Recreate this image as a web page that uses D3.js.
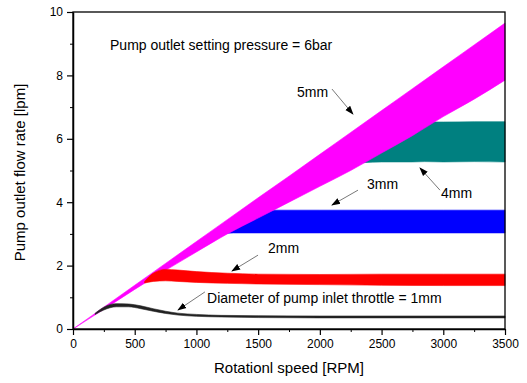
<!DOCTYPE html>
<html lang="en">
<head>
<meta charset="utf-8">
<title>Pump outlet flow rate</title>
<script src="https://d3js.org/d3.v7.min.js"></script>
<style>
  body { margin: 0; background: #fff; }
  text { font-family: "Liberation Sans", Arial, sans-serif; fill: #000; }
</style>
</head>
<body>
<svg class="chart"></svg>
<script>
// envelopes of each throttle band (rpm -> lpm)
var rpm5 = [0, 250, 500, 750, 1000, 1250, 1500, 1750, 2000, 2250, 2500, 2750, 3000, 3250, 3500];
var upper5 = [0, 0.69, 1.38, 2.07, 2.76, 3.45, 4.14, 4.82, 5.51, 6.2, 6.89, 7.58, 8.27, 8.96, 9.65];
var lower5 = [0, 0.62, 1.25, 1.85, 2.43, 3.0, 3.5, 4.0, 4.5, 5.0, 5.55, 6.1, 6.7, 7.25, 7.85];

var rpm4 = [2200, 2500, 2750, 2850, 3000, 3250, 3500];
var upper4 = [5.3, 6.2, 6.5, 6.53, 6.53, 6.54, 6.54];
var lower4 = [5.2, 5.27, 5.27, 5.28, 5.27, 5.28, 5.27];

var rpm3 = [1200, 1300, 1450, 1620, 2000, 2500, 3000, 3500];
var upper3 = [3.2, 3.45, 3.65, 3.75, 3.75, 3.75, 3.75, 3.75];
var lower3 = [3.0, 3.03, 3.03, 3.03, 3.03, 3.03, 3.03, 3.03];

var rpm2 = [580, 650, 750, 850, 1000, 1250, 1500, 2000, 2500, 3000, 3500];
var upper2 = [1.5, 1.76, 1.88, 1.86, 1.81, 1.76, 1.73, 1.72, 1.73, 1.73, 1.73];
var lower2 = [1.45, 1.5, 1.52, 1.5, 1.47, 1.44, 1.42, 1.4, 1.38, 1.37, 1.37];

var rpm1 = [180, 250, 350, 450, 550, 650, 750, 850, 1000, 1200, 1500, 2000, 3500];
var upper1 = [0.5, 0.69, 0.8, 0.79, 0.73, 0.64, 0.56, 0.5, 0.46, 0.43, 0.42, 0.41, 0.41];
var lower1 = [0.46, 0.6, 0.7, 0.7, 0.64, 0.56, 0.49, 0.44, 0.4, 0.38, 0.36, 0.35, 0.35];

var xTicks = [0, 500, 1000, 1500, 2000, 2500, 3000, 3500];
var yTicks = [0, 2, 4, 6, 8, 10];

var title = "Pump outlet setting pressure = 6bar";
var labels = ["5mm", "4mm", "3mm", "2mm", "Diameter of pump inlet throttle = 1mm"];
// label anchor and arrow in data units
var labelAt = [[1815, 7.48], [2981, 4.29], [2382, 4.57], [1580, 2.56], [1086, 0.98]];
var arrowFrom = [[2098, 7.57], [2973, 4.38], [2309, 4.38], [1499, 2.33], [1069, 1.17]];
var arrowTo = [[2268, 6.78], [2811, 5.08], [2098, 3.91], [1288, 1.83], [851, 0.6]];

// drawing order: 4mm and 3mm sit under the 5mm band, 2mm and 1mm over it
var bands = [
  {rpm: rpm4, up: upper4, lo: lower4, color: "#008080"},
  {rpm: rpm3, up: upper3, lo: lower3, color: "#0000ff"},
  {rpm: rpm5, up: upper5, lo: lower5, color: "#ff00ff"},
  {rpm: rpm2, up: upper2, lo: lower2, color: "#ff0000"},
  {rpm: rpm1, up: upper1, lo: lower1, color: "#222222"}
];

var W = 527, H = 383;
var margin = {top: 12, right: 22, bottom: 54, left: 73};
var width = W - margin.left - margin.right;
var height = H - margin.top - margin.bottom;

var svg = d3.select(".chart").attr("width", W).attr("height", H);

svg.append("defs").append("marker")
  .attr("id", "head")
  .attr("viewBox", "0 0 10 10")
  .attr("refX", 9).attr("refY", 5)
  .attr("markerWidth", 9).attr("markerHeight", 9)
  .attr("markerUnits", "userSpaceOnUse")
  .attr("orient", "auto")
  .append("path").attr("d", "M0,1.5 L10,5 L0,8.5 Z").attr("fill", "#000");

var chart = svg.append("g").attr("transform", "translate(" + margin.left + "," + margin.top + ")");

var x = d3.scaleLinear().domain([0, 3500]).range([0, width]);
var y = d3.scaleLinear().domain([0, 10]).range([height, 0]);

//bands
bands.forEach(function(b) {
  var pts = b.rpm.map(function(r, i) { return [r, b.up[i], b.lo[i]]; });
  var area = d3.area()
    .x(function(d) { return x(d[0]); })
    .y0(function(d) { return y(d[2]); })
    .y1(function(d) { return y(d[1]); })
    .curve(d3.curveMonotoneX);
  chart.append("path").datum(pts)
    .attr("d", area)
    .attr("fill", b.color)
    .attr("stroke", b.color)
    .attr("stroke-width", 0.6);
});

//frame
chart.append("rect")
  .attr("width", width).attr("height", height)
  .attr("fill", "none").attr("stroke", "#000").attr("stroke-width", 1.3);

//axes
var xMinor = d3.range(250, 3500, 500);
var yMinor = d3.range(1, 10, 2);

chart.append("g").attr("transform", "translate(0," + height + ")")
  .call(d3.axisBottom(x).tickValues(xMinor).tickSize(3).tickFormat(""))
  .call(function(g) { g.select(".domain").remove(); });
chart.append("g").attr("transform", "translate(0," + height + ")")
  .call(d3.axisBottom(x).tickValues(xTicks).tickFormat(d3.format("d"))
    .tickSize(6).tickSizeOuter(0).tickPadding(4))
  .call(function(g) {
    g.select(".domain").attr("stroke-width", 1.5);
    g.selectAll("line").attr("stroke-width", 1.2);
    g.selectAll("text").style("font-size", "12px");
  });

chart.append("g")
  .call(d3.axisLeft(y).tickValues(yMinor).tickSize(3).tickFormat(""))
  .call(function(g) { g.select(".domain").remove(); });
chart.append("g")
  .call(d3.axisLeft(y).tickValues(yTicks).tickFormat(d3.format("d"))
    .tickSize(6).tickSizeOuter(0).tickPadding(4))
  .call(function(g) {
    g.select(".domain").attr("stroke-width", 1.5);
    g.selectAll("line").attr("stroke-width", 1.2);
    g.selectAll("text").style("font-size", "12px");
  });

//axis titles
svg.append("text")
  .attr("x", margin.left + width / 2).attr("y", 373)
  .attr("text-anchor", "middle").style("font-size", "15px")
  .text("Rotationl speed [RPM]");
svg.append("text")
  .attr("transform", "translate(25," + (margin.top + height / 2 + 2) + ") rotate(-90)")
  .attr("text-anchor", "middle").style("font-size", "15px")
  .text("Pump outlet flow rate [lpm]");

//annotations
chart.append("text")
  .attr("x", x(300)).attr("y", y(8.96)).attr("dy", "0.35em")
  .style("font-size", "14px").text(title);

labels.forEach(function(t, i) {
  chart.append("line")
    .attr("x1", x(arrowFrom[i][0])).attr("y1", y(arrowFrom[i][1]))
    .attr("x2", x(arrowTo[i][0])).attr("y2", y(arrowTo[i][1]))
    .attr("stroke", "#555").attr("stroke-width", 0.8)
    .attr("marker-end", "url(#head)");
  chart.append("text")
    .attr("x", x(labelAt[i][0])).attr("y", y(labelAt[i][1])).attr("dy", "0.35em")
    .style("font-size", "14px").text(t);
});
</script>
</body>
</html>
